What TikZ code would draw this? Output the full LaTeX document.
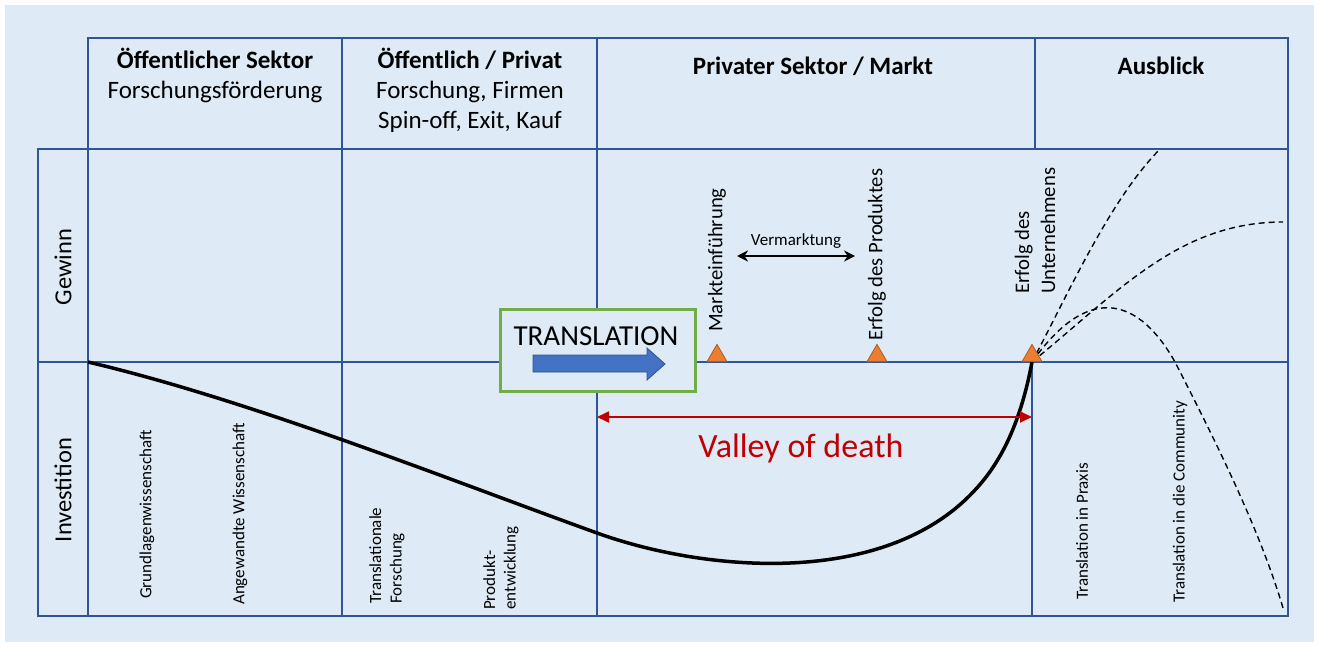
\documentclass[tikz,border=0pt]{standalone}
\usepackage{fontspec}
\setmainfont{Carlito}
\usepackage{xcolor}
\usetikzlibrary{arrows.meta, positioning, shapes.geometric}
\definecolor{bgfill}{RGB}{222,235,247}
\definecolor{gridline}{RGB}{47,85,151}
\definecolor{transgreen}{RGB}{112,173,71}
\definecolor{arrowblue}{RGB}{68,114,196}
\definecolor{arrowedge}{RGB}{47,82,143}
\definecolor{markfill}{RGB}{237,125,49}
\definecolor{markedge}{RGB}{174,90,33}
\definecolor{valleyred}{RGB}{192,0,0}
\tikzset{
    frameline/.style={
        draw=gridline,
        line width=1.8pt
    },
    hdrbold/.style={
        font=\fontsize{25}{30}\selectfont\bfseries,
        inner sep=0pt,
        anchor=base
    },
    hdrtext/.style={
        font=\fontsize{25}{30}\selectfont,
        inner sep=0pt,
        anchor=base
    },
    rowlabel/.style={
        font=\fontsize{24.5}{29}\selectfont,
        rotate=90,
        inner sep=0pt
    },
    milestone/.style={
        font=\fontsize{20.7}{26}\selectfont,
        rotate=90,
        anchor=west,
        align=left,
        inner sep=0pt
    },
    phase/.style={
        font=\fontsize{17}{20.5}\selectfont,
        rotate=90,
        anchor=west,
        align=left,
        inner sep=0pt
    },
    marker/.style={
        regular polygon,
        regular polygon sides=3,
        fill=markfill,
        draw=markedge,
        line width=0.8pt,
        minimum size=23pt,
        inner sep=0pt,
        anchor=side 2
    },
    transbox/.style={
        draw=transgreen,
        line width=3pt,
        fill=bgfill,
        minimum width=195pt,
        minimum height=82pt,
        inner sep=0pt
    },
    costcurve/.style={
        draw=black,
        line width=3.5pt
    },
    outlook/.style={
        draw=black,
        line width=1.4pt,
        dash pattern=on 6pt off 4pt
    },
    valley/.style={
        draw=valleyred,
        line width=1.8pt,
        {Triangle[length=12pt,width=11pt]}-{Triangle[length=12pt,width=11pt]}
    },
    marketing/.style={
        draw=black,
        line width=2.2pt,
        {Stealth[length=11pt,width=11pt]}-{Stealth[length=11pt,width=11pt]}
    }
}
\begin{document}
\begin{tikzpicture}[x=1pt, y=-1pt]

\useasboundingbox (0,0) rectangle (1319,647);
\fill[white] (0,0) rectangle (1319,647);
\fill[bgfill] (5,5) rectangle (1314,642);

% Header row
\draw[frameline] (88,38) rectangle (1288,149);
\draw[frameline] (342,38) -- (342,149);
\draw[frameline] (597,38) -- (597,149);
\draw[frameline] (1035,38) -- (1035,149);

% Body grid
\draw[frameline] (38,149) rectangle (1288,616);
\draw[frameline] (38,362) -- (1288,362);
\draw[frameline] (88,149) -- (88,616);
\draw[frameline] (342,149) -- (342,616);
\draw[frameline] (597,149) -- (597,616);
\draw[frameline] (1032,362) -- (1032,616);
\draw[draw=gridline, line width=2.6pt] (697,362) -- (1032,362);

% Header texts
\node[hdrbold] (hpub1) at (215,69) {Öffentlicher Sektor};
\node[hdrtext] (hpub2) at (215,99) {Forschungsförderung};
\node[hdrbold] (hpp1) at (470,69) {Öffentlich / Privat};
\node[hdrtext] (hpp2) at (470,99) {Forschung, Firmen};
\node[hdrtext] (hpp3) at (470,129) {Spin-off, Exit, Kauf};
\node[hdrbold] (hpriv) at (813,75) {Privater Sektor / Markt};
\node[hdrbold] (hout) at (1161,75) {Ausblick};

% Row labels
\node[rowlabel] (gewinn) at (63,267) {Gewinn};
\node[rowlabel] (invest) at (63,490) {Investition};

% Phases
\node[phase] (grund) at (147,599) {Grundlagenwissenschaft};
\node[phase] (angew) at (240,605) {Angewandte Wissenschaft};
\node[phase] (transf) at (387,604) {Translationale\\Forschung};
\node[phase] (prod) at (501,610) {Produkt-\\entwicklung};
\node[phase] (praxis) at (1082,600) {Translation in Praxis};
\node[phase] (commun) at (1180,603) {Translation in die Community};

% Cost curve
\coordinate (start) at (88,362);
\coordinate (exit) at (1032,362);
\draw[costcurve] (start) .. controls (250,400) and (450,480) .. (597,533)
    .. controls (705,572) and (885,588) .. (975,490)
    .. controls (1005,458) and (1022,415) .. (exit);

% Outlook
\draw[outlook] (exit) .. controls (1070,290) and (1110,200) .. (1160,149);
\draw[outlook] (exit) .. controls (1120,290) and (1180,222) .. (1283,222);
\draw[outlook] (exit) .. controls (1090,280) and (1140,300) .. (1175,362)
    .. controls (1215,440) and (1260,530) .. (1283,608);

% Translation
\node[transbox] (trbox) at (598,350.5) {};
\node[font=\fontsize{29}{33}\selectfont, inner sep=0pt] (trtext) at (596,336) {TRANSLATION};
\fill[arrowblue, draw=arrowedge, line width=0.8pt] (533,355) -- (647,355) -- (647,348) -- (665,364)
    -- (647,380) -- (647,372) -- (533,372) -- cycle;

% Milestones
\node[marker] (mk1) at (717,362) {};
\node[marker] (mk2) at (877,362) {};
\node[marker] (mk3) at (exit) {};
\node[milestone] (launch) at (717,332) {Markteinführung};
\node[milestone] (prodok) at (877,341) {Erfolg des Produktes};
\node[milestone] (firmok) at (1035,294) {Erfolg des\\Unternehmens};

\coordinate (vmL) at (737,256);
\coordinate (vmR) at (855,256);
\draw[marketing] (vmL) -- node[above=6pt, inner sep=0pt, font=\fontsize{17}{20}\selectfont] (vmtext) {Vermarktung} (vmR);

% Valley of death
\coordinate (vodL) at (597,417);
\coordinate (vodR) at (1032,417);
\draw[valley] (vodL) -- (vodR);
\node[font=\fontsize{34}{38}\selectfont, text=valleyred, inner sep=0pt] (vod) at (801,448) {Valley of death};

\end{tikzpicture}
\end{document}
